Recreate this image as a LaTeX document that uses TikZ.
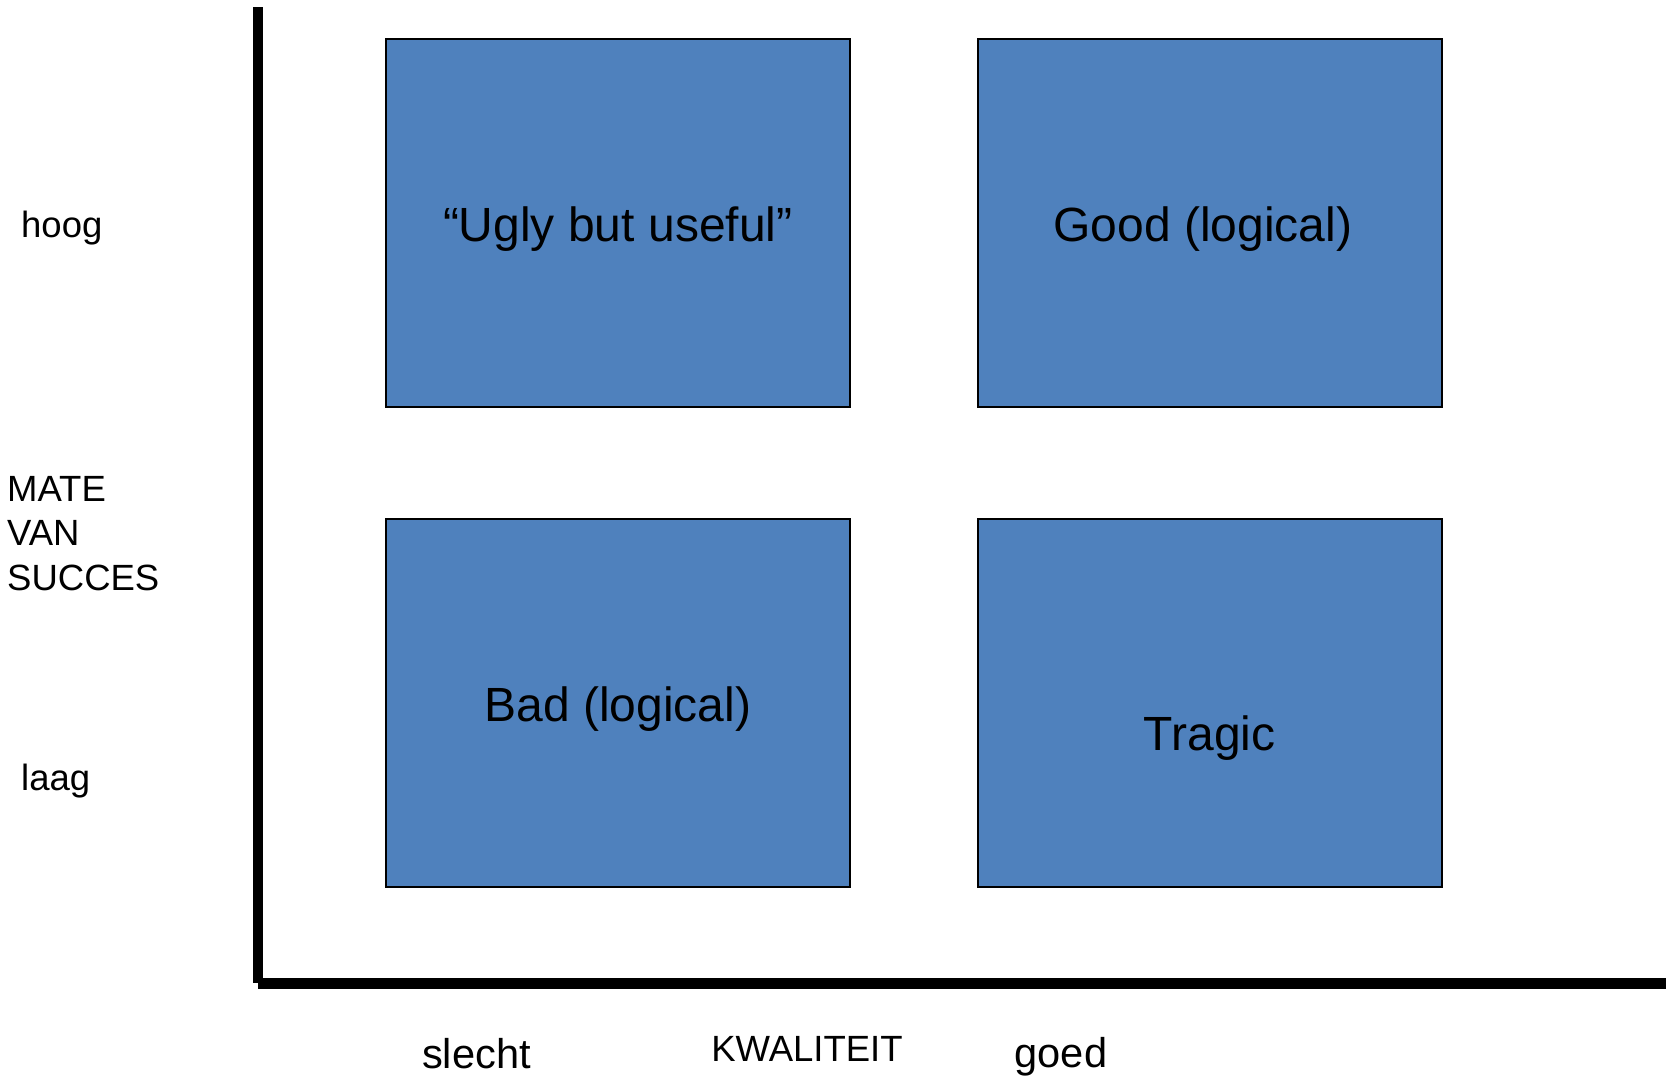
\documentclass[tikz,border=0pt]{standalone}
\usepackage{fontspec}
\setmainfont{Liberation Sans}
\definecolor{boxblue}{RGB}{79,129,189}
\begin{document}
\begin{tikzpicture}[x=1pt,y=-1pt,
  quad/.style={draw=black,line width=2pt,fill=boxblue,minimum width=464pt,minimum height=368pt,inner sep=0pt},
  qtext/.style={inner sep=0pt,font=\fontsize{48}{57}\selectfont},
  lab/.style={inner sep=0pt,font=\fontsize{36.5}{44.6}\selectfont},
  labbig/.style={inner sep=0pt,font=\fontsize{41.6}{50}\selectfont},
  axis/.style={line width=10.6pt,line cap=butt}]
\useasboundingbox (0,0) rectangle (1666,1077);
\coordinate (ytop) at (258,7);
\coordinate (ybot) at (258,983);
\coordinate (xl) at (258,983);
\coordinate (xr) at (1666,983);
\draw[axis] (ytop) -- (ybot);
\draw[axis,line width=11pt] (xl) -- (xr);
\node[quad] (ugly) at (617.75,222.75) {};
\node[quad] (good) at (1209.75,222.75) {};
\node[quad] (bad) at (617.75,703) {};
\node[quad] (tragic) at (1209.75,703) {};
\node[qtext] (tugly) at ([yshift=-6.4pt]ugly.center) {“Ugly but useful”};
\node[qtext] (tgood) at ([xshift=-7pt,yshift=-6.4pt]good.center) {Good (logical)};
\node[qtext] (tbad) at ([yshift=-6.4pt]bad.center) {Bad (logical)};
\node[qtext] (ttragic) at (1209.75,738.5) {Tragic};
\node[lab,anchor=west] (hoog) at (21,228) {hoog};
\node[lab,anchor=west] (laag) at (21,781) {laag};
\node[lab,anchor=north west,align=left] (mate) at (7,476) {MATE\\VAN\\SUCCES};
\node[labbig] (slecht) at (476.5,1054) {slecht};
\node[lab] (kwal) at (807,1049) {KWALITEIT};
\node[labbig] (goed) at (1061,1057) {goed};
\end{tikzpicture}
\end{document}
